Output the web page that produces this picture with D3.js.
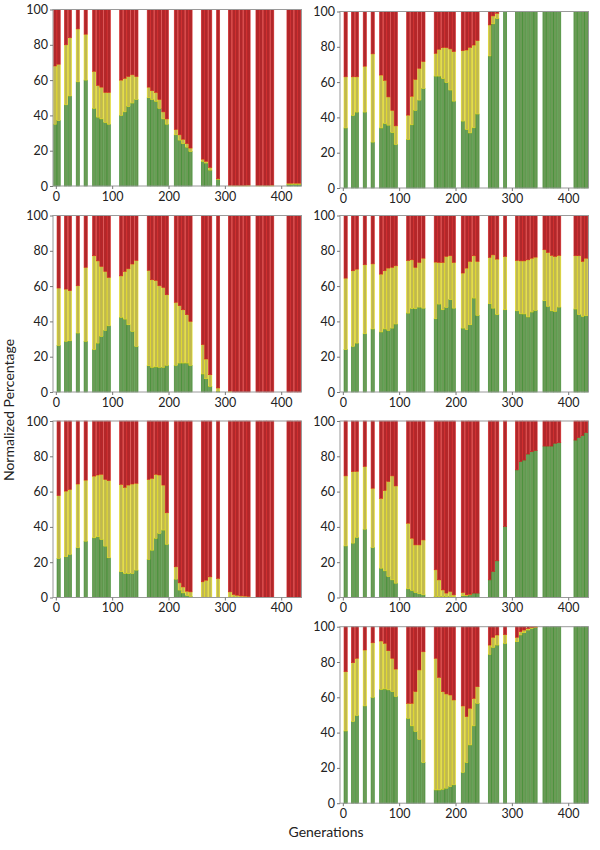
<!DOCTYPE html>
<html><head><meta charset="utf-8">
<script src="https://cdn.jsdelivr.net/npm/d3@7"></script>
<style>
body{margin:0;background:#fff}
svg{display:block}
text{font-family:Lato,"Open Sans",sans-serif}
</style>
</head><body>
<svg id="c" width="600" height="850"></svg>
<script>
// ---- data ----
const generations = [-1, 5, 18, 25, 39, 53, 68, 75, 81, 88, 94, 116, 123, 129, 136, 143, 165, 171, 178, 184, 191, 197, 213, 220, 226, 233, 239, 261, 267, 274, 288, 309, 316, 322, 329, 336, 342, 358, 364, 371, 377, 384, 413, 419, 426, 432];
const yTicks = [0, 20, 40, 60, 80, 100];
const xTicks = [0, 100, 200, 300, 400];

const green1 = [35, 37, 46, 51, 59, 60, 44, 39, 38, 36, 35, 40, 42, 45, 47, 49, 50, 49, 48, 44, 38, 35, 29, 26, 24, 22, 19.5, 14, 13, 9, 3.8, 0, 0, 0, 0, 0, 0, 0, 0, 0, 0, 0, 1, 1, 1, 1];
const yellow1 = [33, 32, 34, 33, 30, 26, 21, 18, 18, 17, 18, 20, 19, 17, 16, 13, 6, 5, 5, 5, 4, 3, 3, 3, 2.5, 2, 2, 1.2, 1, 1.5, 0.3, 0.3, 0.3, 0.3, 0.3, 0.4, 0.5, 0.3, 0.3, 0.3, 0.3, 0.5, 0.6, 0.6, 0.6, 0.6];

const green2 = [null, 34, 41, 43, 43, 26, 34, 36.5, 35.6, 31.4, 24.6, 27.5, 35.8, 44, 49.8, 56.4, 63.4, 63.4, 62, 59.7, 55.5, 49.2, 37.9, 33.1, 31.2, 34.1, 41.9, 74.8, 93, 96, 100, 100, 100, 100, 100, 100, 100, 100, 100, 100, 100, 100, 100, 100, 100, 100];
const yellow2 = [null, 29, 22, 20, 26, 50, 30, 24.5, 16, 12.6, 10.6, 13.8, 16.2, 17.5, 18, 15.2, 12.9, 15.2, 17.5, 19.8, 23.3, 28.1, 39.9, 45.1, 48.5, 46.9, 41.6, 17.6, 4.5, 3, 0, 0, 0, 0, 0, 0, 0, 0, 0, 0, 0, 0, 0, 0, 0, 0];

const green3 = [null, 26.4, 28.7, 29, 33.4, 28.7, 24, 27.7, 31.5, 34.9, 37.5, 42.3, 41.3, 38.1, 34.3, 25.8, 14.9, 14, 14.2, 14, 14, 15.1, 15.1, 16.4, 16.4, 16.4, 15.1, 10.2, 7.5, 3.2, 0.5, 0, 0, 0, 0, 0, 0, 0, 0, 0, 0, 0, 0, 0, 0, 0];
const yellow3 = [null, 32.5, 29.6, 28.4, 26.8, 41.9, 53.2, 46.6, 39.6, 33.4, 27.4, 23.5, 27, 31.7, 38.2, 48.7, 54, 49.6, 49, 46.2, 45.2, 40, 35.7, 32.5, 30.2, 27.4, 24.9, 16.6, 11.2, 6.6, 1.8, 0.5, 0, 0, 0, 0, 0, 0, 0, 0, 0, 0, 0, 0, 0, 0];

const green4 = [null, 24, 25.8, 27.7, 33, 35.7, 34, 35.7, 34.9, 36.2, 38.5, 44.7, 47.2, 47.2, 48.1, 47.5, 41.5, 49.8, 46.6, 47.9, 52.3, 47.5, 36.2, 35.3, 38.1, 53.2, 43.4, 50, 47.5, 43.8, 46.6, 46, 44.3, 44.2, 42.5, 45.3, 46.2, 51.7, 48.5, 46, 45.7, 48.1, 47, 43.8, 42.8, 43.2];
const yellow4 = [null, 40.5, 42.9, 41.9, 39.1, 36.9, 32.8, 33, 35.3, 34.4, 33, 29.8, 27.7, 23.4, 25.3, 28.3, 32.1, 23.6, 26.8, 28.9, 24.9, 25.9, 31.2, 34.9, 35.9, 24, 30.6, 26.2, 30.2, 31.5, 30.2, 28.5, 30, 30.1, 32.4, 30.5, 30.2, 28.9, 30.5, 31.4, 31.1, 29.3, 30.2, 33.4, 31.2, 32.6];

const green5 = [null, 22.1, 23.1, 24.4, 28.2, 31.9, 33.8, 34.4, 32.9, 29.1, 22.5, 14.6, 13.6, 13.6, 13.6, 15.5, 21.6, 26.8, 33.5, 36.3, 38.2, 30.1, 10.4, 4.2, 2.6, 1.1, 0.6, 0, 0, 0, 0, 0, 0, 0, 0, 0, 0, 0, 0, 0, 0, 0, 0, 0, 0, 0];
const yellow5 = [null, 35.6, 37.2, 36.8, 36.1, 34.6, 35, 35, 36.9, 37.8, 43.7, 49.5, 48.8, 50.1, 50.7, 49.2, 45.3, 40.7, 36.3, 33.1, 25.5, 17.9, 7, 4.1, 3.4, 2.5, 2.6, 8.9, 9.8, 11.7, 10.8, 3.2, 1.7, 1.3, 0.9, 0.8, 0.6, 0, 0, 0, 0, 0, 0, 0, 0, 0];

const green6 = [null, 29.2, 30.8, 34, 38.7, 28.3, 16.6, 15.1, 11.9, 10, 8.1, 4.9, 4, 2.8, 2.1, 1.5, 0.5, 0.5, 0.5, 0.5, 0.5, 0.3, 1, 1, 1.5, 2.5, 2.5, 10, 14.7, 20.8, 40.2, 72.3, 77, 77.9, 81.3, 82.6, 83.2, 85.8, 85.8, 85.8, 87.4, 87.7, 89.2, 90.6, 91.7, 93.4];
const yellow6 = [null, 39.7, 40.5, 37.5, 35.5, 33.6, 39.6, 45.5, 53.8, 58.9, 55.1, 37.2, 29.6, 27, 27.7, 31.1, 15.2, 9.5, 3.8, 2, 2.9, 1.2, 1.8, 0.5, 0.3, 0, 0, 0, 0, 0, 0, 0, 0, 0, 0, 0, 0, 0, 0, 0, 0, 0, 0, 0, 0, 0];

const green7 = [null, 40.9, 46.2, 49.6, 55.1, 60, 64.5, 64.7, 64.2, 63.2, 60.4, 48.1, 43.8, 40.6, 36.2, 23, 7.5, 7.5, 7.9, 8.5, 9.4, 10.4, 17.4, 23, 33, 43.8, 56.6, 84.3, 88.3, 89.6, 90.5, 91.5, 95.3, 96.6, 98.1, 99, 99.6, 100, 100, 100, 100, 100, 100, 100, 100, 100];
const yellow7 = [null, 33.6, 33.4, 32.5, 31.7, 30.9, 27.4, 25.9, 22.2, 18.9, 15.6, 8.5, 12.8, 22.6, 39.3, 62.8, 74.6, 63.8, 55.3, 53.4, 51.9, 48.1, 37.7, 26.1, 20.8, 15.6, 9.4, 5.3, 5.7, 5.7, 5, 2.5, 1.9, 1.5, 0.9, 0.6, 0.2, 0, 0, 0, 0, 0, 0, 0, 0, 0];

// ---- layout ----
const panels = [
  {green: green1, yellow: yellow1, left: 53, top: 9.5},
  {green: green2, yellow: yellow2, left: 340, top: 11.5},
  {green: green3, yellow: yellow3, left: 53, top: 215.5},
  {green: green4, yellow: yellow4, left: 340, top: 215.5},
  {green: green5, yellow: yellow5, left: 53, top: 421},
  {green: green6, yellow: yellow6, left: 340, top: 421},
  {green: green7, yellow: yellow7, left: 340, top: 626.7}
];
const W = 248.5, H = 176.5;
const fills = {green: "#6b9b57", yellow: "#c0b852", red: "#b0282b"};
const strokes = {green: "#3a8a2a", yellow: "#e6de1a", red: "#d62424"};
const halfBar = 2.85;

const svg = d3.select("#c");
const x = d3.scaleLinear().domain([-5, 436]).range([0, W]);
const y = d3.scaleLinear().domain([0, 100]).range([H, 0]);

panels.forEach(p => {
  const g = svg.append("g").attr("transform", `translate(${p.left},${p.top})`);
  const segs = [];
  generations.forEach((gen, i) => {
    const gv = p.green[i], yv = p.yellow[i];
    if (gv == null) return;
    segs.push({gen, y0: 0, y1: gv, c: "green"});
    segs.push({gen, y0: gv, y1: Math.min(100, gv + yv), c: "yellow"});
    segs.push({gen, y0: Math.min(100, gv + yv), y1: 100, c: "red"});
  });
  g.selectAll("rect.seg").data(segs.filter(s => s.y1 - s.y0 > 0)).join("rect")
    .attr("class", "seg")
    .attr("x", s => x(s.gen - halfBar))
    .attr("width", s => x(s.gen + halfBar) - x(s.gen - halfBar))
    .attr("y", s => y(s.y1))
    .attr("height", s => y(s.y0) - y(s.y1))
    .attr("fill", s => fills[s.c])
    .attr("stroke", s => strokes[s.c])
    .attr("stroke-width", 0.6);

  g.append("rect").attr("width", W).attr("height", H)
    .attr("fill", "none").attr("stroke", "#9a9a9a").attr("stroke-width", 1);

  const ay = g.append("g").call(d3.axisLeft(y).tickValues(yTicks).tickSize(3).tickPadding(2));
  const ax = g.append("g").attr("transform", `translate(0,${H})`)
    .call(d3.axisBottom(x).tickValues(xTicks).tickSize(3).tickPadding(3));
  [ax, ay].forEach(a => {
    a.select(".domain").remove();
    a.selectAll("line").attr("stroke", "#777");
    a.selectAll("text").attr("fill", "#222").style("font-size", "12.5px")
      .style("font-family", "Lato, 'Open Sans', sans-serif");
  });
});

svg.append("text").attr("transform", "translate(14,410) rotate(-90)")
  .attr("text-anchor", "middle").attr("fill", "#222").style("font-size", "14px")
  .text("Normalized Percentage");
svg.append("text").attr("x", 326).attr("y", 837)
  .attr("text-anchor", "middle").attr("fill", "#222").style("font-size", "14px")
  .text("Generations");
</script>
</body></html>
